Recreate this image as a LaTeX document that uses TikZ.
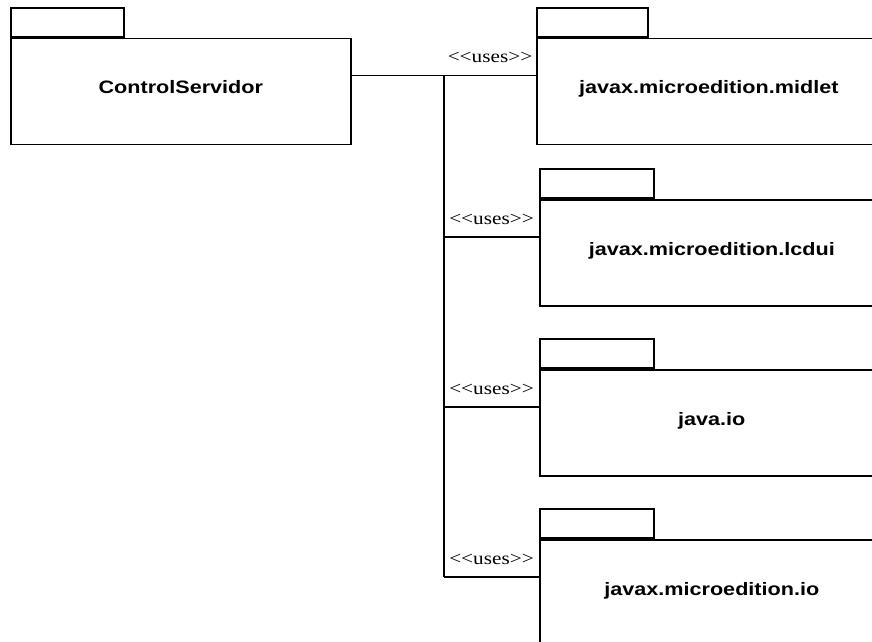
\documentclass[tikz,border=0pt]{standalone}
\usepackage{fontspec}
\usepackage{tikz}
\newfontfamily\pkgfont[FakeStretch=1.2]{Liberation Sans}
\newfontfamily\stereofont[FakeStretch=1.18]{Liberation Serif}

\begin{document}
\begin{tikzpicture}[
    x=1pt, y=-1pt,
    pkg/.style={draw, line width=1.6pt, rectangle, anchor=north west,
                minimum height=106pt, inner sep=0pt,
                font=\pkgfont\bfseries\fontsize{18}{21}\selectfont,
                text height=15pt, text depth=10pt},
    tab/.style={draw, line width=1.6pt, rectangle, anchor=south west,
                minimum height=29pt, inner sep=0pt},
    conn/.style={line width=1.1pt},
    uses/.style={font=\stereofont\fontsize{18}{21}\selectfont,
                 inner sep=0pt, above=12pt},
  ]
    \clip (0,0) rectangle (872,641);

    % packages
    \node[pkg, minimum width=340pt] (ctrl) at (10,37.5) {ControlServidor};
    \node[tab, minimum width=113pt] (ctrltab) at (ctrl.north west) {};

    \node[pkg, minimum width=344pt] (midlet) at (536,37.5) {javax.microedition.midlet};
    \node[tab, minimum width=111pt] (midlettab) at (midlet.north west) {};

    \node[pkg, minimum width=344pt] (lcdui) at (539,199) {javax.microedition.lcdui};
    \node[tab, minimum width=114pt] (lcduitab) at (lcdui.north west) {};

    \node[pkg, minimum width=344pt] (io) at (539,369) {java.io};
    \node[tab, minimum width=114pt] (iotab) at (io.north west) {};

    \node[pkg, minimum width=344pt] (mio) at (539,539) {javax.microedition.io};
    \node[tab, minimum width=114pt] (miotab) at (mio.north west) {};

    % ports of the dependencies
    \coordinate (midletport) at ([yshift=-38pt]midlet.north west);
    \coordinate (lcduiport) at ([yshift=-38pt]lcdui.north west);
    \coordinate (ioport) at ([yshift=-38pt]io.north west);
    \coordinate (mioport) at ([yshift=-38pt]mio.north west);
    \coordinate (fork) at (444,0 |- midletport);

    % dependencies
    \draw[conn] (ctrl.east |- fork) -- (fork);
    \draw[conn] (fork) -- node[uses] {<<uses>>} (midletport);
    \draw[conn] (fork) -- (fork |- mioport);
    \draw[conn] (fork |- lcduiport) -- node[uses] {<<uses>>} (lcduiport);
    \draw[conn] (fork |- ioport) -- node[uses] {<<uses>>} (ioport);
    \draw[conn] (fork |- mioport) -- node[uses] {<<uses>>} (mioport);
  \end{tikzpicture}
\end{document}
